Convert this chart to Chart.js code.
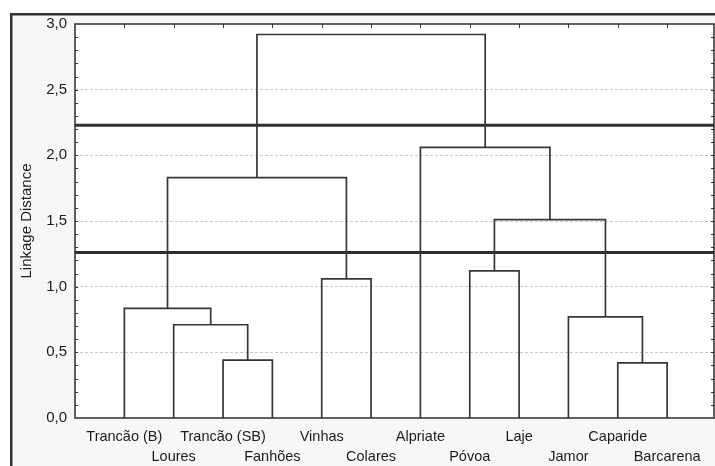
<!DOCTYPE html>
<html>
<head>
<meta charset="utf-8">
<script src="https://cdn.jsdelivr.net/npm/chart.js@4/dist/chart.umd.min.js"></script>
<style>
  html, body { margin: 0; padding: 0; background: #fff; }
  #wrap { width: 715px; height: 466px; position: relative; }
</style>
</head>
<body>
<div id="wrap"><canvas id="c"></canvas></div>
<script>
// Leaves of the tree, in drawing order (left to right)
const leafNames = [
  'Trancão (B)', 'Loures', 'Trancão (SB)', 'Fanhões', 'Vinhas', 'Colares',
  'Alpriate', 'Póvoa', 'Laje', 'Jamor', 'Caparide', 'Barcarena'
];

// Agglomeration steps: cluster ids 0..11 are leaves, each step creates id 12, 13, ...
const mergeA = [10, 2, 1, 9, 0, 4, 7, 18, 16, 6, 20];
const mergeB = [11, 3, 13, 12, 14, 5, 8, 15, 17, 19, 21];
const mergeHeights = [0.42, 0.44, 0.71, 0.77, 0.835, 1.06, 1.12, 1.51, 1.83, 2.06, 2.92];

// Horizontal cut levels
const cutLevels = [2.23, 1.26];

// Y axis tick labels (every 0.5)
const yTickLabels = ['0,0', '0,5', '1,0', '1,5', '2,0', '2,5', '3,0'];

const X_MIN = 0, X_MAX = 12.95;
const INK = '#363636';
const TEXT = '#1c1c1c';
const FONT = 'Liberation Sans, Arial, Helvetica, sans-serif';

// Build the dendrogram links from the merge table
const nodeX = leafNames.map((_, i) => i + 1);
const nodeH = leafNames.map(() => 0);
const datasets = [];
mergeA.forEach((a, k) => {
  const b = mergeB[k];
  const h = mergeHeights[k];
  datasets.push({
    data: [
      { x: nodeX[a], y: nodeH[a] },
      { x: nodeX[a], y: h },
      { x: nodeX[b], y: h },
      { x: nodeX[b], y: nodeH[b] }
    ],
    borderColor: INK,
    borderWidth: 1.7
  });
  nodeX.push((nodeX[a] + nodeX[b]) / 2);
  nodeH.push(h);
});
cutLevels.forEach(level => {
  datasets.push({
    data: [{ x: X_MIN, y: level }, { x: X_MAX, y: level }],
    borderColor: '#2e2e2e',
    borderWidth: 3
  });
});

// Panel background, outer frame, plot border and inner tick marks
const framePlugin = {
  id: 'frame',
  beforeDraw(chart) {
    const { ctx, width, height, chartArea: a } = chart;
    ctx.save();
    ctx.fillStyle = '#ffffff';
    ctx.fillRect(0, 0, width, height);
    ctx.fillStyle = '#f7f7f7';
    ctx.fillRect(10, 13, width - 10, height - 13);
    ctx.strokeStyle = '#333';
    ctx.lineWidth = 2.5;
    ctx.beginPath();
    ctx.moveTo(11.25, height);
    ctx.lineTo(11.25, 14.25);
    ctx.lineTo(width, 14.25);
    ctx.stroke();
    ctx.fillStyle = '#ffffff';
    ctx.fillRect(a.left, a.top, a.right - a.left, a.bottom - a.top);
    ctx.restore();
  },
  afterDraw(chart) {
    const { ctx, chartArea: a } = chart;
    const xs = chart.scales.x, ys = chart.scales.y;
    ctx.save();
    ctx.strokeStyle = INK;
    ctx.lineWidth = 1;
    ctx.beginPath();
    for (let i = 1; i < 30; i++) {
      const py = Math.round(ys.getPixelForValue(i / 10)) + 0.5;
      ctx.moveTo(a.left, py); ctx.lineTo(a.left + 3, py);
      ctx.moveTo(a.right, py); ctx.lineTo(a.right - 3, py);
    }
    leafNames.forEach((_, i) => {
      const px = Math.round(xs.getPixelForValue(i + 1)) + 0.5;
      ctx.moveTo(px, a.top); ctx.lineTo(px, a.top + 4);
    });
    ctx.stroke();
    ctx.lineWidth = 1.5;
    ctx.strokeStyle = '#2e2e2e';
    ctx.strokeRect(a.left, a.top, a.right - a.left, a.bottom - a.top);
    ctx.restore();
  }
};

new Chart(document.getElementById('c'), {
  type: 'scatter',
  data: { datasets },
  options: {
    responsive: true,
    maintainAspectRatio: false,
    animation: false,
    showLine: true,
    elements: { point: { radius: 0, hoverRadius: 0 }, line: { tension: 0, fill: false } },
    layout: { padding: { top: 24, right: 1, left: 0, bottom: 0 } },
    plugins: { legend: { display: false }, tooltip: { enabled: false } },
    events: [],
    scales: {
      x: {
        type: 'linear',
        min: X_MIN,
        max: X_MAX,
        grid: { display: false, drawTicks: false },
        border: { display: false },
        ticks: {
          stepSize: 1,
          autoSkip: false,
          includeBounds: false,
          maxRotation: 0,
          minRotation: 0,
          padding: 8.5,
          color: TEXT,
          font: { family: FONT, size: 14.5, lineHeight: 20 / 14.5 },
          callback: (v) => {
            const i = Math.round(v) - 1;
            if (i < 0 || i >= leafNames.length || Math.abs(v - (i + 1)) > 1e-6) return '';
            return i % 2 === 0 ? leafNames[i] : ['', leafNames[i]];
          }
        },
        afterFit: (s) => { s.height = 48; }
      },
      y: {
        min: 0,
        max: 3,
        border: { display: false, dash: [3, 2] },
        grid: {
          drawTicks: false,
          lineWidth: 1,
          color: (ctx) => {
            const v = ctx.tick ? ctx.tick.value : 0;
            return (v <= 0 || v >= 3) ? 'rgba(0,0,0,0)' : '#c8c8c8';
          }
        },
        ticks: {
          stepSize: 0.5,
          padding: 8,
          color: TEXT,
          font: { family: FONT, size: 15 },
          callback: (v) => yTickLabels[Math.round(v * 2)]
        },
        title: {
          display: true,
          text: 'Linkage Distance',
          color: TEXT,
          font: { family: FONT, size: 15 },
          padding: { top: 18, bottom: 0 }
        },
        afterFit: (s) => { s.width = 75; }
      }
    }
  },
  plugins: [framePlugin]
});
</script>
</body>
</html>
